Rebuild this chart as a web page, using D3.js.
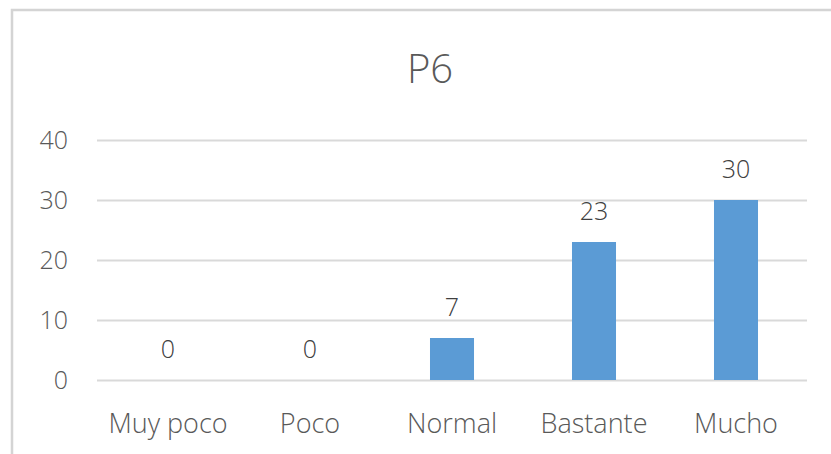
<!DOCTYPE html>
<html>
<head>
<meta charset="utf-8">
<script src="https://cdn.jsdelivr.net/npm/d3@7"></script>
<style>
  body { margin: 0; background: #fff; }
  svg { display: block; font-family: "Open Sans", sans-serif; font-weight: 300; }
</style>
</head>
<body>
<div id="chart"></div>
<script>
// chart data
const categories = ["Muy poco", "Poco", "Normal", "Bastante", "Mucho"];
const values = [0, 0, 7, 23, 30];
const yTicks = [0, 10, 20, 30, 40];
const title = "P6";

const width = 831, height = 454;
const margin = { top: 140, right: 24, bottom: 74, left: 97 };

const svg = d3.select("#chart")
  .append("svg")
  .attr("width", width)
  .attr("height", height);

// outer chart frame (runs off right and bottom edges)
svg.append("rect")
  .attr("x", 12)
  .attr("y", 10)
  .attr("width", width + 20)
  .attr("height", height + 20)
  .attr("fill", "#fff")
  .attr("stroke", "#d4d4d4")
  .attr("stroke-width", 2.5);

// scales
const x = d3.scaleBand()
  .domain(categories)
  .range([margin.left, width - margin.right])
  .paddingInner(0.69)
  .paddingOuter(0.345);

const y = d3.scaleLinear()
  .domain([0, 40])
  .range([height - margin.bottom, margin.top]);

// gridlines + y labels
const yAxis = svg.append("g")
  .attr("transform", `translate(${margin.left},0)`)
  .call(d3.axisLeft(y)
    .tickValues(yTicks)
    .tickSize(-(width - margin.right - margin.left))
    .tickPadding(29))
  .call(g => g.select(".domain").remove());

yAxis.selectAll(".tick line")
  .attr("stroke", "#d9d9d9")
  .attr("stroke-width", 2);

yAxis.selectAll(".tick text")
  .attr("fill", "#595959")
  .attr("font-size", "25px")
  .attr("font-family", "Open Sans, sans-serif");

// bars
svg.selectAll("rect.bar")
  .data(values)
  .enter()
  .append("rect")
  .attr("class", "bar")
  .attr("x", (d, i) => x(categories[i]))
  .attr("y", d => y(d))
  .attr("width", x.bandwidth())
  .attr("height", d => y(0) - y(d))
  .attr("fill", "#5b9bd5");

// data labels
svg.selectAll("text.val")
  .data(values)
  .enter()
  .append("text")
  .attr("class", "val")
  .attr("x", (d, i) => x(categories[i]) + x.bandwidth() / 2)
  .attr("y", d => y(d) - 22)
  .attr("text-anchor", "middle")
  .attr("fill", "#404040")
  .attr("font-size", "25px")
  .text(d => d);

// x axis labels
const xAxis = svg.append("g")
  .attr("transform", `translate(0,${y(0)})`)
  .call(d3.axisBottom(x).tickSize(0).tickPadding(34))
  .call(g => g.select(".domain").remove());

xAxis.selectAll(".tick text")
  .attr("fill", "#595959")
  .attr("font-size", "27px")
  .attr("font-family", "Open Sans, sans-serif");

// title
svg.append("text")
  .attr("x", 430)
  .attr("y", 83)
  .attr("text-anchor", "middle")
  .attr("fill", "#595959")
  .attr("font-size", "40px")
  .text(title);
</script>
</body>
</html>
